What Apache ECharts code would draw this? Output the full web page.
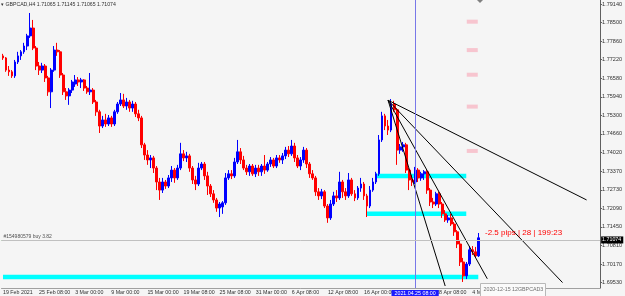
<!DOCTYPE html>
<html>
<head>
<meta charset="utf-8">
<script src="https://cdn.jsdelivr.net/npm/echarts@6/dist/echarts.min.js"></script>
<style>
  html, body { margin: 0; padding: 0; background: #f5f5f5; }
  #chart { width: 625px; height: 296px; }
</style>
</head>
<body>
<div id="chart"></div>
<script>
// GBPCAD H4, one label every 12 bars
const timeLabels = [
  '19 Feb 2021', '25 Feb 08:00', '3 Mar 00:00', '9 Mar 00:00', '15 Mar 00:00',
  '19 Mar 08:00', '25 Mar 08:00', '31 Mar 00:00', '6 Apr 08:00', '12 Apr 08:00',
  '16 Apr 00:00', '22 Apr 08:00', '28 Apr 08:00', '4 May 08:00'
]
const priceTicks = [
  1.79140, 1.78500, 1.77860, 1.77220, 1.76580, 1.75940, 1.75300, 1.74660,
  1.74020, 1.73370, 1.72730, 1.72090, 1.71450, 1.70810, 1.70170, 1.69530
]
// [open, close, low, high]
const candles = [
  [1.7735, 1.7728, 1.7721, 1.7742], [1.7728, 1.7686, 1.7680, 1.7731], [1.7686, 1.7680, 1.7666, 1.7700], [1.7680, 1.7666, 1.7659, 1.7686],
  [1.7666, 1.7714, 1.7659, 1.7721], [1.7714, 1.7735, 1.7707, 1.7749], [1.7735, 1.7749, 1.7721, 1.7755], [1.7749, 1.7769, 1.7742, 1.7780],
  [1.7769, 1.7804, 1.7755, 1.7811], [1.7804, 1.7831, 1.7797, 1.7883], [1.7831, 1.7762, 1.7755, 1.7859], [1.7762, 1.7700, 1.7686, 1.7769],
  [1.7700, 1.7686, 1.7669, 1.7714], [1.7686, 1.7700, 1.7676, 1.7711], [1.7700, 1.7659, 1.7645, 1.7707], [1.7659, 1.7611, 1.7597, 1.7666],
  [1.7611, 1.7686, 1.7555, 1.7693], [1.7686, 1.7755, 1.7680, 1.7769], [1.7755, 1.7749, 1.7735, 1.7780], [1.7749, 1.7669, 1.7659, 1.7755],
  [1.7669, 1.7611, 1.7600, 1.7676], [1.7611, 1.7597, 1.7583, 1.7624], [1.7597, 1.7617, 1.7566, 1.7624], [1.7617, 1.7645, 1.7607, 1.7652],
  [1.7638, 1.7652, 1.7628, 1.7669], [1.7652, 1.7645, 1.7631, 1.7662], [1.7645, 1.7652, 1.7624, 1.7659], [1.7652, 1.7624, 1.7614, 1.7655],
  [1.7624, 1.7611, 1.7604, 1.7631], [1.7611, 1.7617, 1.7600, 1.7676], [1.7617, 1.7576, 1.7569, 1.7624], [1.7576, 1.7542, 1.7528, 1.7583],
  [1.7542, 1.7493, 1.7469, 1.7549], [1.7493, 1.7514, 1.7486, 1.7528], [1.7514, 1.7500, 1.7490, 1.7535], [1.7500, 1.7521, 1.7493, 1.7531],
  [1.7521, 1.7500, 1.7490, 1.7528], [1.7500, 1.7542, 1.7493, 1.7549], [1.7542, 1.7569, 1.7535, 1.7576], [1.7569, 1.7583, 1.7562, 1.7607],
  [1.7583, 1.7562, 1.7555, 1.7604], [1.7562, 1.7576, 1.7549, 1.7590], [1.7576, 1.7555, 1.7542, 1.7583], [1.7555, 1.7569, 1.7542, 1.7580],
  [1.7569, 1.7535, 1.7524, 1.7576], [1.7535, 1.7521, 1.7510, 1.7549], [1.7521, 1.7428, 1.7417, 1.7528], [1.7428, 1.7393, 1.7376, 1.7435],
  [1.7393, 1.7376, 1.7359, 1.7410], [1.7376, 1.7383, 1.7348, 1.7393], [1.7383, 1.7348, 1.7331, 1.7390], [1.7348, 1.7300, 1.7272, 1.7355],
  [1.7300, 1.7272, 1.7238, 1.7314], [1.7272, 1.7300, 1.7262, 1.7314], [1.7300, 1.7286, 1.7276, 1.7307], [1.7286, 1.7314, 1.7279, 1.7324],
  [1.7314, 1.7341, 1.7300, 1.7355], [1.7341, 1.7314, 1.7297, 1.7348], [1.7314, 1.7348, 1.7307, 1.7359], [1.7348, 1.7397, 1.7341, 1.7435],
  [1.7397, 1.7383, 1.7372, 1.7410], [1.7383, 1.7390, 1.7369, 1.7404], [1.7390, 1.7348, 1.7335, 1.7397], [1.7348, 1.7307, 1.7293, 1.7355],
  [1.7307, 1.7293, 1.7272, 1.7321], [1.7293, 1.7348, 1.7286, 1.7366], [1.7348, 1.7362, 1.7341, 1.7369], [1.7362, 1.7321, 1.7307, 1.7369],
  [1.7321, 1.7286, 1.7255, 1.7335], [1.7286, 1.7259, 1.7248, 1.7293], [1.7259, 1.7238, 1.7228, 1.7272], [1.7238, 1.7210, 1.7197, 1.7245],
  [1.7210, 1.7224, 1.7179, 1.7231], [1.7214, 1.7228, 1.7190, 1.7234], [1.7228, 1.7314, 1.7221, 1.7331], [1.7314, 1.7328, 1.7307, 1.7341],
  [1.7328, 1.7321, 1.7310, 1.7341], [1.7321, 1.7369, 1.7314, 1.7383], [1.7369, 1.7404, 1.7362, 1.7445], [1.7404, 1.7376, 1.7362, 1.7417],
  [1.7376, 1.7348, 1.7341, 1.7390], [1.7348, 1.7335, 1.7324, 1.7359], [1.7335, 1.7355, 1.7321, 1.7362], [1.7355, 1.7328, 1.7321, 1.7362],
  [1.7328, 1.7348, 1.7317, 1.7359], [1.7348, 1.7335, 1.7321, 1.7359], [1.7335, 1.7355, 1.7321, 1.7362], [1.7355, 1.7341, 1.7328, 1.7393],
  [1.7341, 1.7362, 1.7335, 1.7369], [1.7362, 1.7376, 1.7352, 1.7386], [1.7376, 1.7355, 1.7348, 1.7383], [1.7355, 1.7383, 1.7348, 1.7393],
  [1.7383, 1.7376, 1.7366, 1.7393], [1.7376, 1.7390, 1.7362, 1.7400], [1.7390, 1.7410, 1.7379, 1.7421], [1.7410, 1.7397, 1.7386, 1.7424],
  [1.7397, 1.7424, 1.7390, 1.7445], [1.7424, 1.7383, 1.7369, 1.7435], [1.7383, 1.7355, 1.7348, 1.7393], [1.7355, 1.7376, 1.7341, 1.7386],
  [1.7376, 1.7410, 1.7366, 1.7421], [1.7410, 1.7362, 1.7348, 1.7417], [1.7362, 1.7328, 1.7314, 1.7369], [1.7328, 1.7314, 1.7307, 1.7341],
  [1.7314, 1.7266, 1.7252, 1.7321], [1.7266, 1.7252, 1.7238, 1.7279], [1.7252, 1.7266, 1.7241, 1.7276], [1.7266, 1.7217, 1.7210, 1.7272],
  [1.7217, 1.7176, 1.7159, 1.7224], [1.7176, 1.7224, 1.7169, 1.7238], [1.7224, 1.7252, 1.7217, 1.7266], [1.7252, 1.7245, 1.7231, 1.7272],
  [1.7245, 1.7300, 1.7238, 1.7335], [1.7300, 1.7266, 1.7245, 1.7307], [1.7266, 1.7252, 1.7238, 1.7279], [1.7252, 1.7307, 1.7245, 1.7331],
  [1.7307, 1.7259, 1.7252, 1.7314], [1.7259, 1.7245, 1.7234, 1.7272], [1.7245, 1.7279, 1.7238, 1.7286], [1.7279, 1.7293, 1.7266, 1.7314],
  [1.7293, 1.7252, 1.7238, 1.7300], [1.7252, 1.7217, 1.7179, 1.7259], [1.7217, 1.7272, 1.7210, 1.7286], [1.7272, 1.7300, 1.7266, 1.7314],
  [1.7300, 1.7328, 1.7293, 1.7335], [1.7328, 1.7445, 1.7321, 1.7462], [1.7445, 1.7528, 1.7438, 1.7542], [1.7528, 1.7493, 1.7479, 1.7535],
  [1.7493, 1.7479, 1.7462, 1.7514], [1.7479, 1.7569, 1.7472, 1.7586], [1.7569, 1.7549, 1.7542, 1.7580], [1.7549, 1.7410, 1.7359, 1.7555],
  [1.7410, 1.7421, 1.7397, 1.7431], [1.7421, 1.7428, 1.7404, 1.7438], [1.7428, 1.7341, 1.7331, 1.7435], [1.7341, 1.7307, 1.7272, 1.7348],
  [1.7307, 1.7300, 1.7286, 1.7324], [1.7300, 1.7341, 1.7293, 1.7352], [1.7341, 1.7314, 1.7300, 1.7348], [1.7314, 1.7328, 1.7304, 1.7335],
  [1.7328, 1.7335, 1.7307, 1.7341], [1.7335, 1.7272, 1.7259, 1.7341], [1.7272, 1.7231, 1.7217, 1.7279], [1.7231, 1.7224, 1.7210, 1.7245],
  [1.7224, 1.7259, 1.7217, 1.7266], [1.7259, 1.7224, 1.7210, 1.7266], [1.7224, 1.7190, 1.7176, 1.7231], [1.7190, 1.7169, 1.7162, 1.7203],
  [1.7169, 1.7176, 1.7159, 1.7186], [1.7176, 1.7155, 1.7148, 1.7190], [1.7155, 1.7128, 1.7114, 1.7162], [1.7128, 1.7086, 1.7072, 1.7134],
  [1.7086, 1.7024, 1.7010, 1.7100], [1.7024, 1.6976, 1.6955, 1.7038], [1.6976, 1.7017, 1.6965, 1.7024], [1.7017, 1.7066, 1.7010, 1.7079],
  [1.7066, 1.7059, 1.7048, 1.7079], [1.7059, 1.7045, 1.7041, 1.7076], [1.7045, 1.71074, 1.7041, 1.7124]
]
const bidPrice = 1.71074
const orderPrice = 1.71145
const markerIndex = 137
// trend lines drawn from the April high
const trendStart = [128, 1.7582]
const trendEnds = [[194, 1.7238], [186, 1.6953], [161, 1.6966], [147, 1.6941]]
// cyan zones: [fromIndex, toIndex, price]
const cyanLevels = [[124, 154, 1.7321], [121, 154, 1.7190], [0, 158, 1.6972]]
const pinkIndex = 156
const pinkPrices = [1.7853, 1.7755, 1.7670, 1.7560, 1.7407]

const TOTAL = 199
const font = 'Liberation Sans'
const categories = []
for (let i = 0; i < TOTAL; i++) {
  categories.push(i % 12 === 0 && timeLabels[i / 12] ? timeLabels[i / 12] : '')
}

const chart = echarts.init(document.getElementById('chart'))

const series = [
  {
    type: 'candlestick',
    data: candles,
    barWidth: 2.4,
    z: 3,
    itemStyle: {
      color: '#0000ff',
      color0: '#ff0000',
      borderColor: '#0000ff',
      borderColor0: '#ff0000',
      borderWidth: 1
    },
    markLine: {
      silent: true,
      symbol: ['none', 'none'],
      animation: false,
      data: [
        {
          xAxis: markerIndex,
          lineStyle: { color: '#7878e8', width: 1, type: 'solid' },
          label: {
            position: 'start',
            formatter: '2021.04.25 08:00',
            color: '#ffffff',
            backgroundColor: '#1a1aff',
            fontFamily: font,
            fontSize: 5.3,
            padding: [1, 3, 0, 3],
            distance: 2
          }
        },
        {
          yAxis: orderPrice,
          lineStyle: { color: '#8fd68f', width: 1, type: [3, 2] },
          label: {
            position: 'insideStartTop',
            formatter: '#154980579 buy 3.82',
            color: '#505050',
            fontFamily: font,
            fontSize: 5,
            distance: [2, 1]
          }
        },
        {
          yAxis: bidPrice,
          lineStyle: { color: '#c0c0c0', width: 1, type: 'solid' },
          label: {
            position: 'end',
            formatter: bidPrice.toFixed(5),
            color: '#ffffff',
            backgroundColor: '#000000',
            fontFamily: font,
            fontSize: 5.3,
            padding: [1, 2, 1, 1],
            distance: 1
          }
        }
      ]
    }
  },
  {
    type: 'scatter',
    data: pinkPrices.map(p => [pinkIndex, p]),
    symbol: 'rect',
    symbolSize: [11, 4],
    itemStyle: { color: '#f8b9c5' },
    silent: true,
    z: 2
  }
]

cyanLevels.forEach(lv => {
  series.push({
    type: 'line',
    data: [[lv[0], lv[2]], [lv[1], lv[2]]],
    symbol: 'none',
    lineStyle: { color: '#00ffff', width: 4.5, cap: 'butt' },
    silent: true,
    z: 1
  })
})

trendEnds.forEach(end => {
  series.push({
    type: 'line',
    data: [trendStart, end],
    symbol: 'none',
    lineStyle: { color: '#000000', width: 1 },
    silent: true,
    z: 4
  })
})

chart.setOption({
  animation: false,
  backgroundColor: '#f5f5f5',
  textStyle: { fontFamily: font },
  grid: { left: 0, right: 23, top: 0, bottom: 8 },
  xAxis: {
    type: 'category',
    data: categories,
    boundaryGap: true,
    axisLine: { show: true, lineStyle: { color: '#a0a0a0', width: 1 } },
    axisTick: { show: false },
    splitLine: { show: false },
    axisLabel: {
      interval: i => i % 12 === 0,
      align: 'left',
      margin: 2,
      color: '#303030',
      fontFamily: font,
      fontSize: 5.3
    }
  },
  yAxis: {
    type: 'value',
    position: 'right',
    min: 1.69342,
    max: 1.79278,
    scale: true,
    axisLine: { show: true, lineStyle: { color: '#606060', width: 1 } },
    axisTick: { show: true, length: 2, customValues: priceTicks, lineStyle: { color: '#606060' } },
    splitLine: { show: false },
    axisLabel: {
      customValues: priceTicks,
      formatter: v => v.toFixed(5),
      margin: 2,
      color: '#303030',
      fontFamily: font,
      fontSize: 5.5
    }
  },
  series: series,
  graphic: [
    {
      type: 'text',
      left: 1,
      top: 2,
      z: 100,
      style: {
        text: '\u25BE GBPCAD,H4 1.71065 1.71145 1.71065 1.71074',
        fill: '#303030',
        font: '5.2px "Liberation Sans"'
      }
    },
    {
      type: 'text',
      left: 485,
      top: 229,
      z: 100,
      style: {
        text: '-2.5 pips | 28 | 199:23',
        fill: '#ff0000',
        font: '8px "Liberation Sans"'
      }
    },
    {
      type: 'polygon',
      z: 100,
      shape: { points: [[477, 0], [483, 0], [480, 3]] },
      style: { fill: '#808080' }
    },
    {
      type: 'group',
      left: 480,
      top: 283,
      z: 100,
      children: [
        {
          type: 'rect',
          z: 100,
          shape: { x: 0, y: 0, width: 65, height: 13 },
          style: { fill: '#fafafa', stroke: '#b8b8b8', lineWidth: 1 }
        },
        {
          type: 'text',
          z: 101,
          x: 3,
          y: 3.5,
          style: {
            text: '2020-12-15 12GBPCAD3',
            fill: '#707070',
            font: '5.3px "Liberation Sans"'
          }
        }
      ]
    }
  ]
})
</script>
</body>
</html>
